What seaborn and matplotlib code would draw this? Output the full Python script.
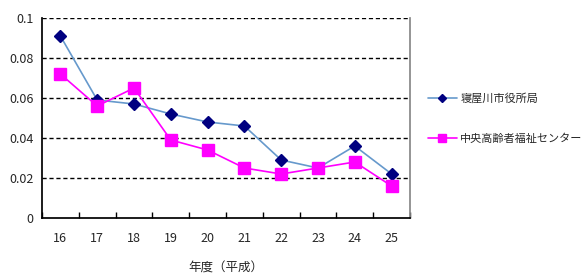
import matplotlib
matplotlib.use("Agg")
import matplotlib.pyplot as plt
import seaborn as sns
import pandas as pd
import numpy as np
from matplotlib.lines import Line2D

years = ["16", "17", "18", "19", "20", "21", "22", "23", "24", "25"]
city_hall = [0.091, 0.059, 0.057, 0.052, 0.048, 0.046, 0.029, 0.025, 0.036, 0.022]
welfare_center = [0.072, 0.056, 0.065, 0.039, 0.034, 0.025, 0.022, 0.025, 0.028, 0.016]
series_names = ["寝屋川市役所局", "中央高齢者福祉センター"]
yticks = [0, 0.02, 0.04, 0.06, 0.08, 0.1]
ytick_labels = ["0", "0.02", "0.04", "0.06", "0.08", "0.1"]

sns.set_theme(style="white")
plt.rcParams['font.family'] = ['Noto Sans CJK JP', 'DejaVu Sans']

df = pd.DataFrame({
    "year": years * 2,
    "pos": list(range(len(years))) * 2,
    "value": city_hall + welfare_center,
    "series": [series_names[0]] * len(years) + [series_names[1]] * len(years),
})

fig = plt.figure(figsize=(5.85, 2.78), dpi=100)
ax = fig.add_axes([42/585, 1 - 218/278, 368/585, 200/278])

palette = {series_names[0]: "#6699cc", series_names[1]: "#ff00ff"}
sns.lineplot(data=df, x="pos", y="value", hue="series", palette=palette,
             ax=ax, linewidth=1.2, legend=False)
ax.plot(range(len(years)), city_hall, linestyle="none", marker="D", markersize=6,
        color="#000080")
ax.plot(range(len(years)), welfare_center, linestyle="none", marker="s", markersize=8,
        color="#ff00ff")

ax.set_xlim(-0.5, len(years) - 0.5)
ax.set_ylim(0, 0.1)
ax.set_yticks(yticks)
ax.set_yticklabels(ytick_labels, fontsize=9)
ax.set_xticks(range(len(years)))
ax.set_xticklabels(years, fontsize=9)
ax.set_xticks(np.arange(-0.5, len(years), 1), minor=True)
ax.tick_params(axis="x", which="major", length=0, pad=10)
ax.tick_params(axis="x", which="minor", length=4, direction="in", color="black", bottom=True)
ax.tick_params(axis="y", which="major", length=0, pad=6)
for y in yticks[1:]:
    ax.axhline(y, color="black", linestyle=(0, (3, 2)), linewidth=1.0, zorder=0)

ax.set_xlabel("年度（平成）", fontsize=9, labelpad=12)
ax.set_ylabel("")
ax.spines["left"].set_color("black")
ax.spines["bottom"].set_color("black")
ax.spines["right"].set_color("#888888")
ax.spines["top"].set_visible(False)

handles = [
    Line2D([], [], color="#6699cc", marker="D", markersize=4, markerfacecolor="#000080",
           markeredgecolor="#000080", linewidth=1.2),
    Line2D([], [], color="#ff00ff", marker="s", markersize=6, linewidth=1.2),
]
fig.legend(handles, series_names, loc="upper left", bbox_to_anchor=(428/585, 1 - 93/278),
           frameon=False, fontsize=8, labelspacing=2.7, handlelength=2.6, handletextpad=0.3,
           borderaxespad=0, borderpad=0)

fig.savefig("out.png", dpi=100)
